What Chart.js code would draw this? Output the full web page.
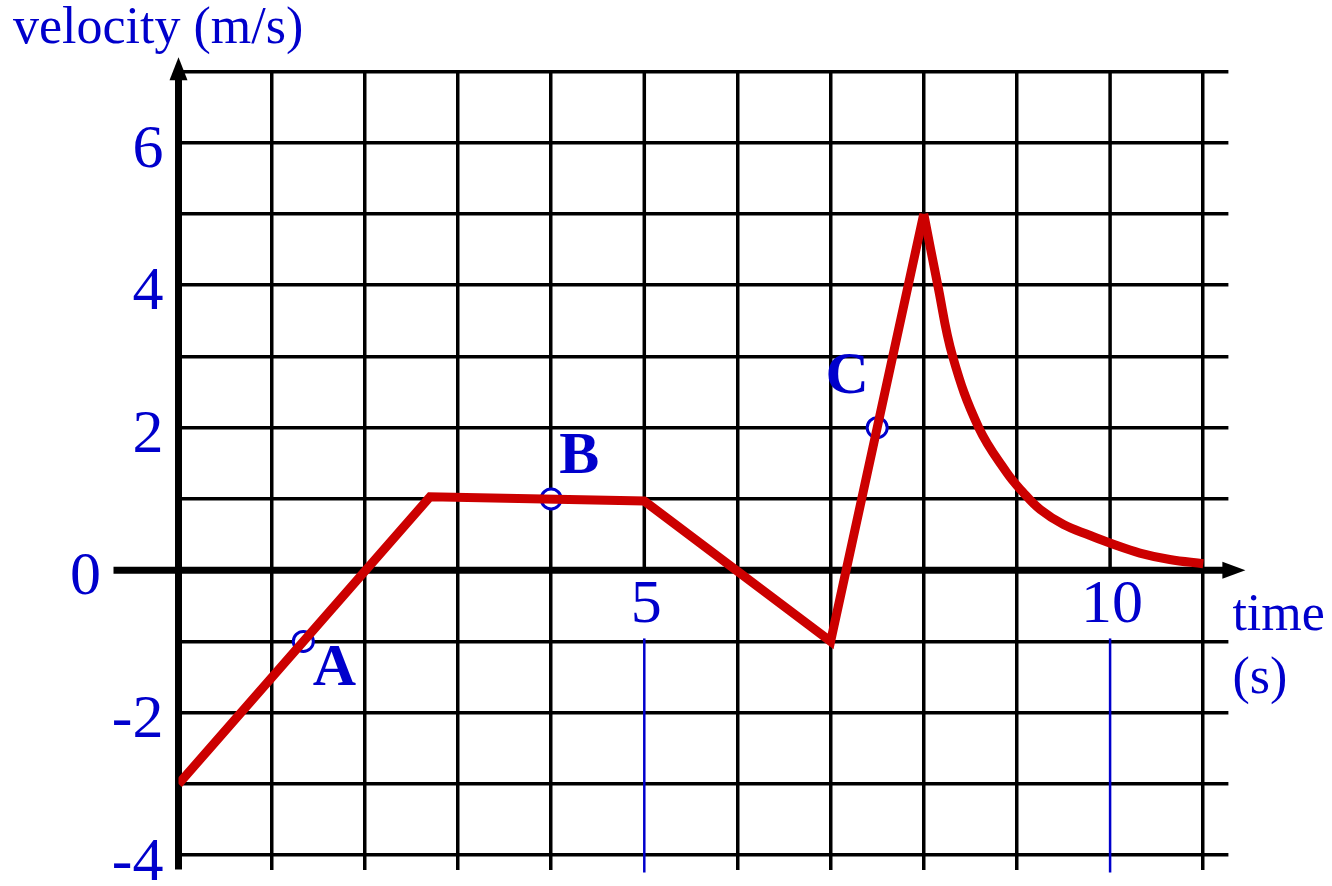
<!DOCTYPE html>
<html>
<head>
<meta charset="utf-8">
<script src="https://cdn.jsdelivr.net/npm/chart.js@4.4.1/dist/chart.umd.min.js"></script>
<style>
  html, body { margin: 0; padding: 0; background: #fff; }
  #wrap { width: 1332px; height: 886px; }
</style>
</head>
<body>
<div id="wrap"><canvas id="grafica" width="1332" height="886"></canvas></div>
<script>
// Datos (tiempo en s, velocidad en m/s)
const tramoX = [0, 2.7, 5, 7, 8];
const tramoV = [-3, 1.03, 0.97, -1, 5];
const curvaX = [8, 8.15, 8.31, 8.59, 8.89, 9.06, 9.25, 9.5, 9.78, 10.02, 10.32, 10.64, 11];
const curvaV = [5, 4, 3, 2, 1.37, 1.10, 0.85, 0.64, 0.49, 0.37, 0.24, 0.15, 0.09];
const puntosNombre = ['A', 'B', 'C'];
const puntosX = [1.34, 4, 7.5];
const puntosV = [-1, 1.0, 2];
const ticksY = [6, 4, 2, 0, -2, -4];
const ticksX = [5, 10];
const marcasAzules = [5, 10];
const tituloY = 'velocity (m/s)';
const tituloX = ['time', '(s)'];

const AZUL = '#0000cc';
const ROJO = '#cc0000';
const SERIF = '"Liberation Serif", "DejaVu Serif", serif';

function linea(ctx, x1, y1, x2, y2) {
  ctx.beginPath();
  ctx.moveTo(x1, y1);
  ctx.lineTo(x2, y2);
  ctx.stroke();
}

// ejes con flechas, marcas azules y textos
const ejes = {
  id: 'ejes',
  beforeDatasetsDraw(chart) {
    const { ctx, scales: { x, y } } = chart;
    const x0 = x.getPixelForValue(0);
    const y0 = y.getPixelForValue(0);
    ctx.save();
    ctx.lineCap = 'butt';

    // lineas de 5 y 10: negro arriba, azul abajo
    marcasAzules.forEach(v => {
      const px = x.getPixelForValue(v);
      ctx.strokeStyle = '#000';
      ctx.lineWidth = 3.5;
      linea(ctx, px, y.top, px, y0);
      ctx.strokeStyle = AZUL;
      ctx.lineWidth = 2.5;
      linea(ctx, px, y.getPixelForValue(-1) - 3, px, y.bottom + 3);
    });

    // eje vertical
    ctx.strokeStyle = '#000';
    ctx.fillStyle = '#000';
    ctx.lineWidth = 7;
    linea(ctx, x0, y.bottom, x0, y.top - 2);
    const tipY = y.top - 14;
    ctx.beginPath();
    ctx.moveTo(x0, tipY);
    ctx.lineTo(x0 - 9, tipY + 23);
    ctx.lineTo(x0 + 9, tipY + 23);
    ctx.closePath();
    ctx.fill();

    // eje horizontal
    const tipX = x.right + 17;
    linea(ctx, x0 - 65, y0, tipX - 20, y0);
    ctx.beginPath();
    ctx.moveTo(tipX, y0);
    ctx.lineTo(tipX - 23, y0 - 8.5);
    ctx.lineTo(tipX - 23, y0 + 8.5);
    ctx.closePath();
    ctx.fill();

    // etiquetas de los ejes
    ctx.fillStyle = AZUL;
    ctx.font = '62px ' + SERIF;
    ctx.textBaseline = 'middle';
    ticksY.forEach(v => {
      const py = y.getPixelForValue(v) + 8;
      if (v === 0) {
        ctx.textAlign = 'center';
        ctx.fillText(String(v), x0 - 93, py);
      } else {
        ctx.textAlign = 'right';
        ctx.fillText(String(v), x0 - 15, py);
      }
    });
    ctx.textAlign = 'center';
    ticksX.forEach(v => {
      ctx.fillText(String(v), x.getPixelForValue(v) + 2, y0 + 36);
    });

    ctx.font = '52px ' + SERIF;
    ctx.textAlign = 'left';
    ctx.textBaseline = 'alphabetic';
    ctx.fillText(tituloY, 13, 43);
    ctx.fillText(tituloX[0], x.right + 4, 630);
    ctx.fillText(tituloX[1], x.right + 4, 693);
    ctx.restore();
  },
  afterDatasetsDraw(chart) {
    const { ctx, scales: { x, y } } = chart;
    const desplaza = [[31, 28], [28, -41], [-30, -50]];
    ctx.save();
    ctx.fillStyle = AZUL;
    ctx.font = 'bold 60px ' + SERIF;
    ctx.textAlign = 'center';
    ctx.textBaseline = 'middle';
    puntosNombre.forEach((n, i) => {
      const px = x.getPixelForValue(puntosX[i]) + desplaza[i][0];
      const py = y.getPixelForValue(puntosV[i]) + desplaza[i][1];
      ctx.fillText(n, px, py);
    });
    ctx.restore();
  }
};

const colorRejilla = (ocultos) => (c) => ocultos.includes(c.tick.value) ? 'rgba(0,0,0,0)' : '#000';

const ctx = document.getElementById('grafica').getContext('2d');
new Chart(ctx, {
  type: 'line',
  data: {
    datasets: [
      {
        data: curvaX.map((t, i) => ({ x: t, y: curvaV[i] })),
        borderColor: ROJO,
        borderWidth: 9,
        pointRadius: 0,
        tension: 0.4
      },
      {
        data: tramoX.map((t, i) => ({ x: t, y: tramoV[i] })),
        borderColor: ROJO,
        borderWidth: 9,
        borderJoinStyle: 'miter',
        pointRadius: 0,
        tension: 0
      },
      {
        data: puntosX.map((t, i) => ({ x: t, y: puntosV[i] })),
        showLine: false,
        pointRadius: 10,
        pointBackgroundColor: '#ffffff',
        pointBorderColor: AZUL,
        pointBorderWidth: 3
      }
    ]
  },
  options: {
    responsive: false,
    animation: false,
    layout: { padding: { left: 178.5, right: 103.6, top: 71.3, bottom: 16.5 } },
    plugins: {
      legend: { display: false },
      tooltip: { enabled: false }
    },
    scales: {
      x: {
        type: 'linear',
        min: 0,
        max: 11.27,
        ticks: { display: false, stepSize: 1, includeBounds: false },
        grid: { color: colorRejilla([0, 5, 10]), lineWidth: 3.5, drawTicks: false },
        border: { display: false }
      },
      y: {
        type: 'linear',
        min: -4.2,
        max: 7,
        ticks: { display: false, stepSize: 1, includeBounds: false },
        grid: { color: colorRejilla([0]), lineWidth: 3.5, drawTicks: false },
        border: { display: false }
      }
    }
  },
  plugins: [ejes]
});
</script>
</body>
</html>
